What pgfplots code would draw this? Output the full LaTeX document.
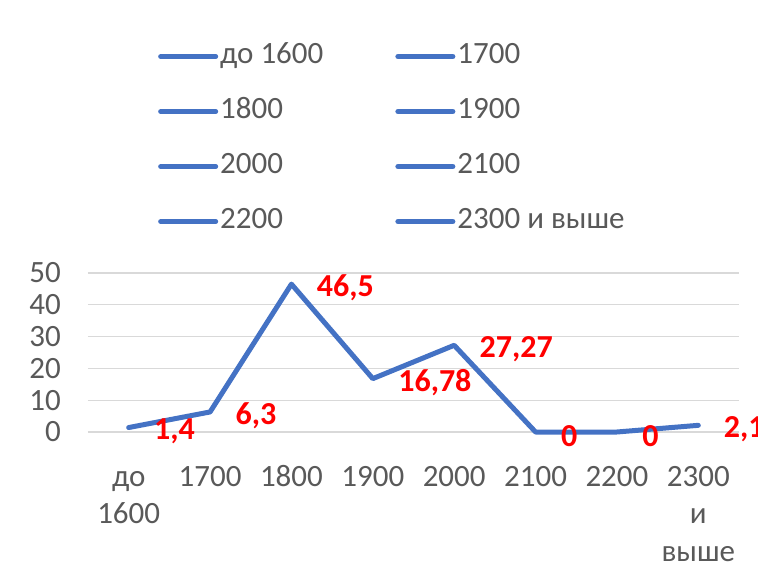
\documentclass[border=0pt]{standalone}
\usepackage{fontspec}
\setmainfont{Carlito}
\usepackage{pgfplots}
\pgfplotsset{compat=1.18}
\definecolor{xlblue}{HTML}{4472C4}
\definecolor{xlgrid}{HTML}{D9D9D9}
\definecolor{xltext}{HTML}{595959}
\pgfplotstableread{
x y lab
0 1.4 1,4
1 6.3 6,3
2 46.5 46,5
3 16.78 16,78
4 27.27 27,27
5 0 0
6 0 0
7 2.1 2,1
}\datatab
\newcommand{\bigfont}{\fontsize{31bp}{37.5bp}\selectfont}
\newcommand{\lblfont}{\fontsize{32bp}{38bp}\selectfont\bfseries}
\newcommand{\ml}[1]{\begin{tabular}[t]{@{}c@{}}#1\end{tabular}}
\begin{document}
\begin{tikzpicture}
\path[use as bounding box] (-88bp,-148bp) rectangle (670bp,432bp);
\begin{axis}[
  at={(0,0)}, anchor=south west,
  scale only axis, width=651bp, height=159bp,
  xmin=-0.5, xmax=7.5, ymin=0, ymax=50,
  ytick={0,10,20,30,40,50},
  xtick={0,1,2,3,4,5,6,7},
  xticklabels={\ml{до\\1600},1700,1800,1900,2000,2100,2200,\ml{2300\\и\\выше}},
  ymajorgrids,
  grid style={xlgrid, line width=1.2bp},
  axis line style={draw=none},
  major tick style={draw=none},
  /pgf/number format/assume math mode=true,
  tick label style={font=\bigfont, text=xltext},
  xticklabel style={inner sep=0pt, anchor=base, yshift=-54bp},
  yticklabel style={anchor=east, inner sep=0pt, xshift=-27bp},
  clip=false,
  legend columns=2,
  legend cell align=left,
  legend image code/.code={\draw[#1, line width=5bp, line cap=round] (0bp,0bp) -- (55bp,0bp);},
  legend style={at={(0.1075,2.46)}, anchor=north west, draw=none, fill=none,
    font=\bigfont, text=xltext, inner sep=0pt, row sep=24bp,
    nodes={inner sep=2bp, text height=20bp, text depth=7bp},
    /tikz/every even column/.append style={column sep=70bp}},
]
\addplot[xlblue, line width=5bp, line join=round, line cap=round, forget plot,
  point meta=explicit symbolic,
  nodes near coords,
  every node near coord/.append style={anchor=west, xshift=21bp, yshift=-4bp,
    inner sep=2bp, text=red, font=\lblfont}]
  table[x=x, y=y, meta=lab] {\datatab};
\addlegendimage{xlblue}\addlegendentry{до 1600}
\addlegendimage{xlblue}\addlegendentry{1700}
\addlegendimage{xlblue}\addlegendentry{1800}
\addlegendimage{xlblue}\addlegendentry{1900}
\addlegendimage{xlblue}\addlegendentry{2000}
\addlegendimage{xlblue}\addlegendentry{2100}
\addlegendimage{xlblue}\addlegendentry{2200}
\addlegendimage{xlblue}\addlegendentry{2300 и выше}
\end{axis}
\end{tikzpicture}
\end{document}
